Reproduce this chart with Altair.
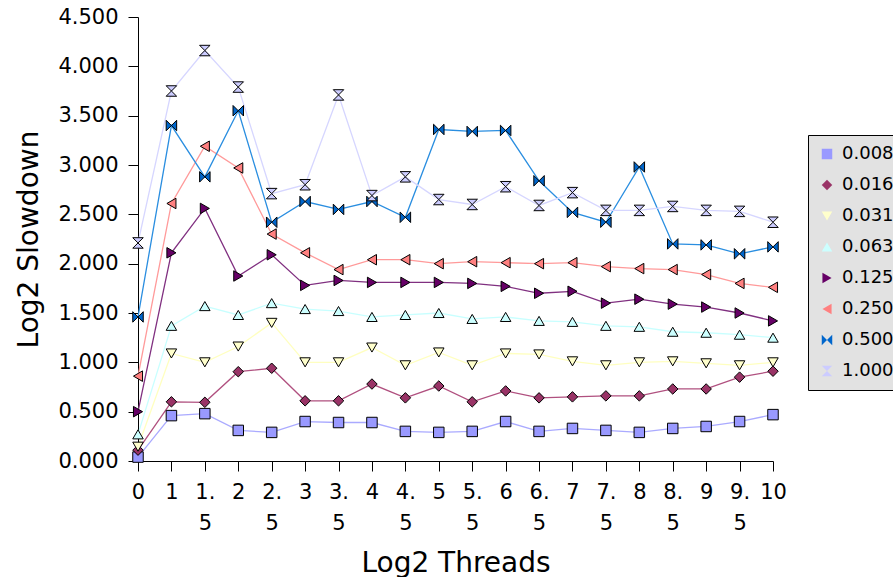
import altair as alt
import pandas as pd

threads = ["0", "1", "1.5", "2", "2.5", "3", "3.5", "4", "4.5", "5", "5.5",
           "6", "6.5", "7", "7.5", "8", "8.5", "9", "9.5", "10"]
series = ["0.008", "0.016", "0.031", "0.063", "0.125", "0.250", "0.500", "1.000"]

s0008 = [0.04, 0.46, 0.48, 0.31, 0.29, 0.40, 0.39, 0.39, 0.30, 0.29, 0.30, 0.40, 0.30, 0.33, 0.31, 0.29, 0.33, 0.35, 0.40, 0.47]
s0016 = [0.11, 0.60, 0.595, 0.905, 0.94, 0.61, 0.61, 0.78, 0.64, 0.76, 0.60, 0.71, 0.64, 0.65, 0.66, 0.66, 0.73, 0.73, 0.85, 0.91]
s0031 = [0.145, 1.09, 1.00, 1.16, 1.40, 1.00, 1.00, 1.15, 0.97, 1.10, 0.97, 1.09, 1.08, 1.01, 0.97, 1.00, 1.01, 0.99, 0.97, 1.00]
s0063 = [0.27, 1.37, 1.57, 1.48, 1.60, 1.54, 1.52, 1.46, 1.48, 1.50, 1.44, 1.46, 1.42, 1.41, 1.37, 1.36, 1.31, 1.30, 1.28, 1.25]
s0125 = [0.50, 2.11, 2.56, 1.875, 2.09, 1.78, 1.83, 1.81, 1.81, 1.81, 1.80, 1.77, 1.70, 1.72, 1.60, 1.64, 1.59, 1.56, 1.50, 1.42]
s0250 = [0.86, 2.61, 3.19, 2.97, 2.30, 2.11, 1.94, 2.04, 2.04, 2.00, 2.02, 2.01, 2.00, 2.01, 1.97, 1.95, 1.94, 1.89, 1.80, 1.76]
s0500 = [1.46, 3.40, 2.88, 3.55, 2.42, 2.63, 2.55, 2.63, 2.47, 3.36, 3.34, 3.35, 2.84, 2.52, 2.42, 2.98, 2.20, 2.19, 2.10, 2.17]
s1000 = [2.21, 3.75, 4.16, 3.79, 2.71, 2.80, 3.71, 2.69, 2.88, 2.65, 2.60, 2.78, 2.59, 2.72, 2.54, 2.54, 2.58, 2.54, 2.53, 2.42]

fill_colors = ["#9999ff", "#993366", "#ffffcc", "#ccffff", "#660066", "#ff8080", "#0066cc", "#ccccff"]
line_colors = ["#aaaaff", "#b0507f", "#ffffc0", "#c8ffff", "#803080", "#ff9a9a", "#2a8ee0", "#d6d6ff"]
shapes = ["square", "diamond", "triangle-down", "triangle-up", "triangle-right", "triangle-left",
          "M-1,-1L0,0L-1,1Z M1,-1L0,0L1,1Z",
          "M-1,-1L1,-1L0,0Z M-1,1L1,1L0,0Z"]

all_vals = [s0008, s0016, s0031, s0063, s0125, s0250, s0500, s1000]
rows = []
for si, (name, vals) in enumerate(zip(series, all_vals)):
    for t, v in zip(threads, vals):
        rows.append({"threads": t, "value": v, "series": name, "line_series": "s" + name, "order": si})
df = pd.DataFrame(rows)

FONT = "DejaVu Sans"

x_enc = alt.X("threads:O", sort=threads,
              scale=alt.Scale(type="point", padding=0),
              axis=alt.Axis(title="Log2 Threads", labelAngle=0,
                            labelExpr="indexof(datum.label, '.') > 0 ? [slice(datum.label, 0, indexof(datum.label, '.') + 1), slice(datum.label, indexof(datum.label, '.') + 1)] : datum.label",
                            labelLineHeight=31, labelFontSize=21, labelOverlap=False,
                            labelPadding=10, tickSize=10, titleFontSize=28,
                            titlePadding=16))
y_enc = alt.Y("value:Q", scale=alt.Scale(domain=[0, 4.5], nice=False, zero=True),
              axis=alt.Axis(title="Log2 Slowdown", format=".3f",
                            values=[0, 0.5, 1, 1.5, 2, 2.5, 3, 3.5, 4, 4.5],
                            labelFontSize=21, labelPadding=10, tickSize=10,
                            titleFontSize=28, titlePadding=14))

lines = alt.Chart(df).mark_line(strokeWidth=1.3).encode(
    x=x_enc, y=y_enc,
    stroke=alt.Stroke("line_series:N", scale=alt.Scale(range=line_colors), legend=None),
    order="order:Q",
)

leg = alt.Legend(title=None, symbolStrokeColor="black", symbolStrokeWidth=1)

points = alt.Chart(df).mark_point(filled=False, stroke="black", strokeWidth=1, opacity=1,
                                  fillOpacity=1, size=110).encode(
    x=x_enc, y=y_enc,
    fill=alt.Fill("series:N", scale=alt.Scale(domain=series, range=fill_colors), legend=leg),
    shape=alt.Shape("series:N", scale=alt.Scale(domain=series, range=shapes), legend=leg),
    order="order:Q",
)

chart = alt.layer(lines, points).resolve_legend(stroke="independent").properties(
    width=635, height=444,
    background="white",
    autosize=alt.AutoSizeParams(type="none"),
    padding={"left": 138, "top": 17, "right": 120, "bottom": 116},
).configure_view(stroke=None).configure_axis(
    domainColor="black", tickColor="black", labelColor="black", titleColor="black",
    grid=False, labelFont=FONT, titleFont=FONT, titleFontWeight="normal",
).configure_legend(
    orient="none", legendX=670, legendY=118,
    fillColor="#e2e2e2", strokeColor="black", padding=10,
    labelFontSize=18, rowPadding=13, symbolSize=110,
    symbolStrokeColor="black", symbolStrokeWidth=1,
    labelOffset=6, labelFont=FONT, labelColor="black")

chart.save("out.html", embed_options={"renderer": "svg", "actions": False})
